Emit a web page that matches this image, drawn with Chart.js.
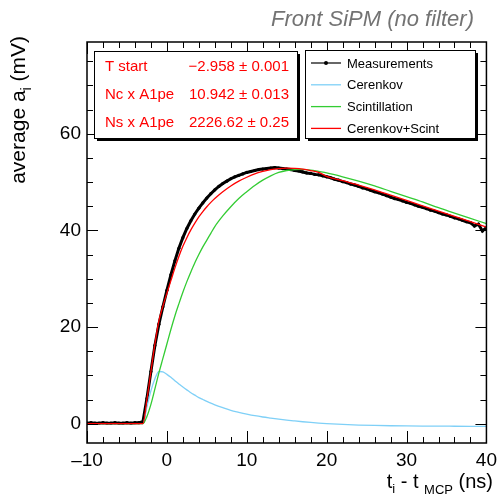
<!DOCTYPE html>
<html>
<head>
<meta charset="utf-8">
<script src="https://cdn.jsdelivr.net/npm/chart.js@4.4.1/dist/chart.umd.min.js"></script>
<style>
  html, body { margin: 0; padding: 0; background: #fff; }
  #wrap { position: relative; width: 503px; height: 496px; }
</style>
</head>
<body>
<div id="wrap"><canvas id="graph" width="503" height="496"></canvas></div>
<script>
// ---- data ----
var xTicks = [-10, 0, 10, 20, 30, 40];
var yTicks = [0, 20, 40, 60];

// measurement times (ns)
var measT = [-10,-9.5,-9,-8.5,-8,-7.5,-7,-6.5,-6,-5.5,-5,-4.5,-4,-3.5,-3,-2.5,-2,-1.5,-1,-0.5,
  0,0.5,1,1.5,2,2.5,3,3.5,4,4.5,5,5.5,6,6.5,7,7.5,8,8.5,9,9.5,
  10,10.5,11,11.5,12,12.5,13,13.5,14,14.5,15,15.5,16,16.5,17,17.5,18,18.5,19,19.5,
  20,20.5,21,21.5,22,22.5,23,23.5,24,24.5,25,25.5,26,26.5,27,27.5,28,28.5,29,29.5,
  30,30.5,31,31.5,32,32.5,33,33.5,34,34.5,35,35.5,36,36.5,37,37.5,38,38.5,39,39.5,40];
// measured average amplitude (mV)
var measA = [0.1,0.2,0.1,0.1,0.2,0.1,0.1,0.2,0.1,0.1,0.2,0.1,0.2,0.2,0.4,5.2,10.8,16.2,20.6,24.2,
  27.6,30.8,33.7,36.3,38.5,40.4,42.0,43.4,44.6,45.7,46.7,47.6,48.4,49.1,49.7,50.2,50.7,51.1,51.4,51.7,
  52.0,52.2,52.4,52.6,52.7,52.8,52.9,53.0,52.9,52.8,52.7,52.6,52.4,52.3,52.1,51.9,51.8,51.6,51.5,51.3,
  51.1,50.9,50.6,50.4,50.1,49.9,49.6,49.4,49.1,48.8,48.6,48.3,48.0,47.8,47.5,47.2,46.9,46.6,46.4,46.1,
  45.8,45.6,45.3,45.0,44.8,44.5,44.2,44.0,43.7,43.4,43.2,42.9,42.6,42.4,42.1,41.8,41.6,40.9,41.3,39.9,40.6];

// fit curves, sampled times (ns)
var fitT = [-10,-3,-2.5,-2,-1.5,-1,-0.5,0,0.5,1,1.5,2,2.5,3,3.5,4,4.5,5,5.5,6,
  7,8,9,10,11,12,13,14,15,16,17,18,19,20,22,24,26,28,30,32,34,36,38,40];
var cerenkov = [0,0,3.5,6.8,9.3,10.8,10.7,10.2,9.6,8.9,8.2,7.6,7.0,6.4,5.9,5.4,5.0,4.6,4.25,3.9,
  3.3,2.75,2.35,1.98,1.65,1.38,1.15,0.93,0.73,0.56,0.4,0.26,0.13,0.02,-0.15,-0.28,-0.37,-0.43,-0.47,-0.5,-0.52,-0.53,-0.54,-0.55];
var scint = [0,0,1.5,4.0,7.2,10.5,13.5,16.5,19.5,22.3,24.8,27.2,29.4,31.4,33.3,35.0,36.6,38.0,39.4,40.8,
  43.0,44.9,46.6,48.0,49.3,50.4,51.3,52.0,52.4,52.6,52.65,52.5,52.2,51.9,51.1,50.2,49.2,48.1,47.0,45.9,44.7,43.6,42.5,41.4];
var cerScint = [0,0,5.0,10.8,16.5,21.3,24.3,27.0,29.6,32.2,34.6,36.7,38.5,40.1,41.5,42.8,43.9,44.9,45.8,46.6,
  48.0,49.2,50.2,51.0,51.7,52.2,52.6,52.8,52.9,52.85,52.7,52.4,52.0,51.2,50.3,49.4,48.4,47.3,46.2,45.1,44.0,42.9,41.8,40.7];

var statNames = ['T start', 'Nc x A1pe', 'Ns x A1pe'];
var statValues = ['\u22122.958 \u00b1 0.001', '10.942 \u00b1 0.013', '2226.62 \u00b1 0.25'];
var legendNames = ['Measurements', 'Cerenkov', 'Scintillation', 'Cerenkov+Scint'];
var legendColors = ['#000000', '#7fd0f7', '#33cc33', '#ff0000'];

function pairs(xs, ys) {
    var out = [];
    for (var i = 0; i < xs.length; i++) out.push({x: xs[i], y: ys[i]});
    return out;
}

var FONT = '"Liberation Sans", Arial, Helvetica, sans-serif';
var AREA = {left: 87, top: 42, right: 493, bottom: 443};

// ROOT style frame, inside ticks, boxes and titles
var rootDecor = {
    id: 'rootDecor',
    beforeDraw: function(chart) {
        var c = chart.ctx;
        c.save();
        c.fillStyle = '#fff';
        c.fillRect(0, 0, chart.width, chart.height);
        c.restore();
    },
    afterDraw: function(chart) {
        var c = chart.ctx;
        var a = chart.chartArea;
        var xs = chart.scales.x, ys = chart.scales.y;
        c.save();
        c.strokeStyle = '#000';
        c.lineWidth = 1.5;
        c.strokeRect(a.left, a.top, a.right - a.left, a.bottom - a.top);

        c.lineWidth = 1;
        c.beginPath();
        for (var v = -10; v <= 40; v += 2) {
            var px = Math.round(xs.getPixelForValue(v)) + 0.5;
            var len = (v % 10 === 0) ? 12 : 6;
            c.moveTo(px, a.bottom); c.lineTo(px, a.bottom - len);
            c.moveTo(px, a.top); c.lineTo(px, a.top + len);
        }
        for (var w = -0; w <= 75; w += 5) {
            var py = Math.round(ys.getPixelForValue(w)) + 0.5;
            var l2 = (w % 20 === 0) ? 11 : 6;
            c.moveTo(a.left, py); c.lineTo(a.left + l2, py);
            c.moveTo(a.right, py); c.lineTo(a.right - l2, py);
        }
        c.stroke();

        // title
        c.fillStyle = '#737373';
        c.font = 'italic 22px ' + FONT;
        c.textAlign = 'right';
        c.textBaseline = 'alphabetic';
        c.fillText('Front SiPM (no filter)', 474, 26);

        // x axis title: t_i - t_MCP (ns)
        c.fillStyle = '#000';
        var big = '20px ' + FONT, small = '13px ' + FONT;
        var parts = [['t', big, 0], ['i', small, 5], [' - t ', big, 0], ['MCP', small, 6], [' (ns)', big, 0]];
        var tot = 0;
        parts.forEach(function(p) { c.font = p[1]; tot += c.measureText(p[0]).width; });
        var x0 = 493 - tot;
        c.textAlign = 'left';
        parts.forEach(function(p) {
            c.font = p[1];
            c.fillText(p[0], x0, 488 + p[2]);
            x0 += c.measureText(p[0]).width;
        });

        // y axis title: average a_i (mV), rotated
        c.save();
        c.translate(25, 36);
        c.rotate(-Math.PI / 2);
        var ybig = '21px ' + FONT, ysmall = '14px ' + FONT;
        var yparts = [['average a', ybig, 0], ['i', ysmall, 6], [' (mV)', ybig, 0]];
        var tot2 = 0;
        yparts.forEach(function(p) { c.font = p[1]; tot2 += c.measureText(p[0]).width; });
        var y0 = -tot2;
        yparts.forEach(function(p) {
            c.font = p[1];
            c.fillText(p[0], y0, 0 + p[2]);
            y0 += c.measureText(p[0]).width;
        });
        c.restore();

        // stats box
        drawBox(c, 94, 51, 203, 87);
        c.fillStyle = '#ff0000';
        c.font = '15px ' + FONT;
        c.textBaseline = 'middle';
        for (var i = 0; i < statNames.length; i++) {
            c.textAlign = 'left';
            c.fillText(statNames[i], 105, 67 + i * 28);
            c.textAlign = 'right';
            c.fillText(statValues[i], 289, 67 + i * 28);
        }

        // legend box
        drawBox(c, 305, 50, 170, 88);
        c.font = '13px ' + FONT;
        c.textAlign = 'left';
        for (var k = 0; k < legendNames.length; k++) {
            var ly = 63 + k * 21.8;
            c.strokeStyle = legendColors[k];
            c.lineWidth = k === 0 ? 1.2 : 1.3;
            c.beginPath();
            c.moveTo(311, ly); c.lineTo(341, ly);
            c.stroke();
            if (k === 0) {
                c.fillStyle = '#000';
                c.beginPath(); c.arc(326, ly, 2, 0, Math.PI * 2); c.fill();
            }
            c.fillStyle = '#000';
            c.fillText(legendNames[k], 347, ly + 1);
        }
        c.restore();
    }
};

function drawBox(c, x, y, w, h) {
    c.fillStyle = '#000';
    c.fillRect(x + 3, y + 3, w, h);
    c.fillStyle = '#fff';
    c.fillRect(x, y, w, h);
    c.strokeStyle = '#000';
    c.lineWidth = 1;
    c.strokeRect(x + 0.5, y + 0.5, w, h);
}

var ctx = document.getElementById('graph').getContext('2d');
window.myLine = new Chart(ctx, {
    type: 'line',
    data: {
        datasets: [
            {
                label: legendNames[0],
                data: pairs(measT, measA),
                borderColor: '#000', backgroundColor: '#000',
                borderWidth: 3, pointRadius: 1.6, pointBorderWidth: 0,
                tension: 0, order: 4
            },
            {
                label: legendNames[1],
                data: pairs(fitT, cerenkov),
                borderColor: legendColors[1], borderWidth: 1.3, pointRadius: 0,
                cubicInterpolationMode: 'monotone', order: 3
            },
            {
                label: legendNames[2],
                data: pairs(fitT, scint),
                borderColor: legendColors[2], borderWidth: 1.3, pointRadius: 0,
                cubicInterpolationMode: 'monotone', order: 2
            },
            {
                label: legendNames[3],
                data: pairs(fitT, cerScint),
                borderColor: legendColors[3], borderWidth: 1.3, pointRadius: 0,
                cubicInterpolationMode: 'monotone', order: 1
            }
        ]
    },
    options: {
        responsive: false,
        animation: false,
        events: [],
        layout: { padding: { left: 0, top: AREA.top, right: 503 - AREA.right, bottom: 0 } },
        plugins: { legend: { display: false }, tooltip: { enabled: false } },
        scales: {
            x: {
                type: 'linear', min: -10, max: 40,
                grid: { display: false, drawTicks: false },
                border: { display: false },
                afterBuildTicks: function(s) { s.ticks = xTicks.map(function(v) { return {value: v}; }); },
                afterFit: function(s) { s.height = 496 - AREA.bottom; },
                ticks: {
                    color: '#000', padding: 6, maxRotation: 0,
                    font: { family: FONT, size: 19 },
                    callback: function(v) { return v < 0 ? '\u2013' + Math.abs(v) : String(v); }
                }
            },
            y: {
                type: 'linear', min: -4, max: 79,
                grid: { display: false, drawTicks: false },
                border: { display: false },
                afterBuildTicks: function(s) { s.ticks = yTicks.map(function(v) { return {value: v}; }); },
                afterFit: function(s) { s.width = AREA.left; },
                ticks: {
                    color: '#000', padding: 6,
                    font: { family: FONT, size: 19 }
                }
            }
        }
    },
    plugins: [rootDecor]
});
</script>
</body>
</html>
